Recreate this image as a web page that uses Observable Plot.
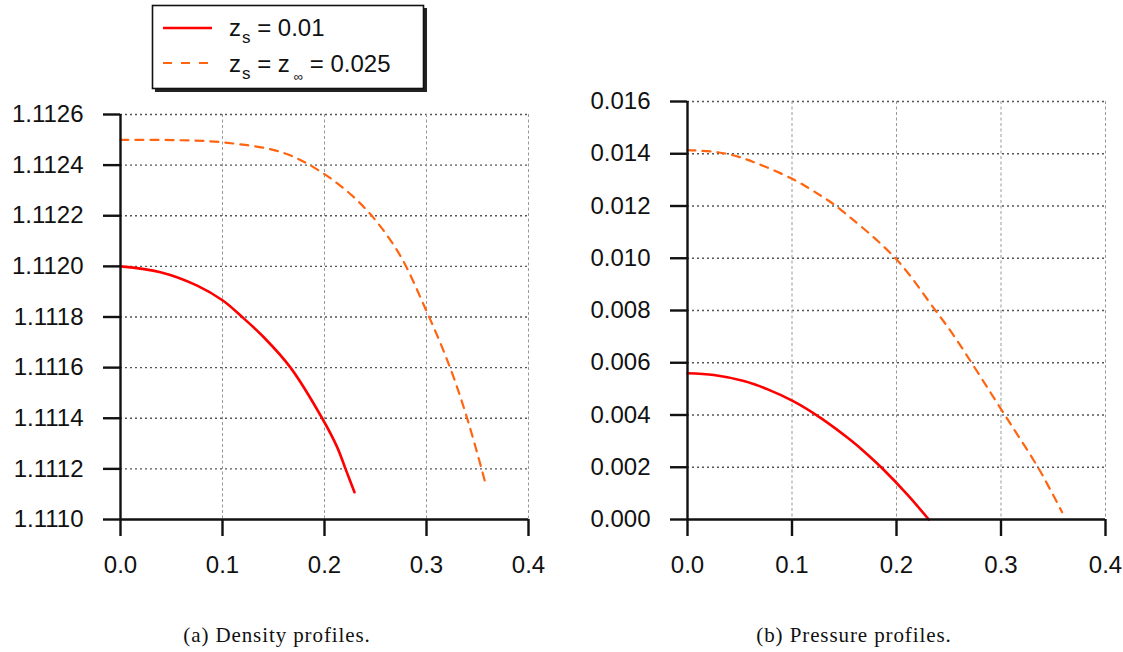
<!DOCTYPE html>
<html>
<head>
<meta charset="utf-8">
<script src="https://cdn.jsdelivr.net/npm/d3@7"></script>
<script src="https://cdn.jsdelivr.net/npm/@observablehq/plot@0.6"></script>
<style>
  html, body { margin: 0; padding: 0; background: #fff; }
  #wrap { position: relative; width: 1123px; height: 652px; overflow: hidden; font-family: "Liberation Sans", Arial, sans-serif; }
  .abs { position: absolute; }
  .cap { position: absolute; font-family: "Liberation Serif", "Times New Roman", serif; font-size: 21px; letter-spacing: 0.9px; color: #111; white-space: nowrap; transform: translate(-50%, -50%); }
</style>
</head>
<body>
<div id="wrap">
  <div id="plotA" class="abs" style="left:0px; top:90px;"></div>
  <div id="plotB" class="abs" style="left:560px; top:80px;"></div>
  <div id="legend" class="abs" style="left:0; top:0;"></div>
  <div class="cap" style="left:277px; top:635px;">(a) Density profiles.</div>
  <div class="cap" style="left:854px; top:635px;">(b) Pressure profiles.</div>
</div>
<script>
// ---- data ----
const seriesNames = ["z_s = 0.01", "z_s = z_inf = 0.025"];

// (a) density, z_s = 0.01
const densRedX = [0, 0.0392, 0.0752, 0.1003, 0.1193, 0.1405, 0.1667, 0.1977, 0.2124, 0.2206, 0.2294];
const densRedY = [1.11200, 1.111977, 1.111924, 1.111865, 1.111800, 1.111720, 1.111600, 1.111400, 1.111286, 1.111200, 1.111108];
// (a) density, z_s = z_inf = 0.025
const densOrangeX = [0, 0.05, 0.1, 0.157, 0.1944, 0.2353, 0.2712, 0.2997, 0.3235, 0.3415, 0.3578];
const densOrangeY = [1.11250, 1.112499, 1.11249, 1.112452, 1.112379, 1.112248, 1.112063, 1.111826, 1.111596, 1.111378, 1.111143];

// (b) pressure, z_s = 0.01
const presRedX = [0, 0.0252, 0.0539, 0.0762, 0.1011, 0.1273, 0.156, 0.1719, 0.1863, 0.2102, 0.2309];
const presRedY = [0.0056, 0.00553, 0.0053, 0.00499, 0.00453, 0.00389, 0.00304, 0.0025, 0.00196, 0.00096, 0];
// (b) pressure, z_s = z_inf = 0.025
const presOrangeX = [0, 0.0284, 0.05, 0.1002, 0.1273, 0.142, 0.199, 0.2373, 0.2548, 0.2979, 0.3091, 0.3362, 0.3585];
const presOrangeY = [0.01414, 0.01406, 0.01387, 0.01304, 0.0124, 0.0120, 0.0100, 0.0080, 0.00704, 0.00436, 0.00366, 0.00194, 0.00028];

// ticks
const xTicks = [0, 0.1, 0.2, 0.3, 0.4];
const densTicks = [1.1110, 1.1112, 1.1114, 1.1116, 1.1118, 1.1120, 1.1122, 1.1124, 1.1126];
const presTicks = [0, 0.002, 0.004, 0.006, 0.008, 0.010, 0.012, 0.014, 0.016];

const RED = "#ff0000";
const ORANGE = "#ff6410";

function toRows(xs, ys) { return xs.map((x, i) => ({x, y: ys[i]})); }

function makePlot({width, height, marginLeft, marginRight, marginTop, marginBottom, yTicks, yFormat, red, orange}) {
  const yMin = yTicks[0], yMax = yTicks[yTicks.length - 1];
  return Plot.plot({
    width, height, marginLeft, marginRight, marginTop, marginBottom,
    style: {fontFamily: "'Liberation Sans', Arial, sans-serif", fontSize: "24px", color: "#111", overflow: "visible", background: "transparent"},
    x: {domain: [0, 0.4], label: null},
    y: {domain: [yMin, yMax], label: null},
    marks: [
      Plot.gridY(yTicks.slice(1), {stroke: "#555", strokeOpacity: 1, strokeWidth: 1.4, strokeDasharray: "2,3"}),
      Plot.gridX(xTicks.slice(1), {stroke: "#999", strokeOpacity: 1, strokeWidth: 1, strokeDasharray: "3,2.5"}),
      Plot.line(red, {x: "x", y: "y", stroke: RED, strokeWidth: 2.6, curve: "catmull-rom"}),
      Plot.line(orange, {x: "x", y: "y", stroke: ORANGE, strokeWidth: 2.2, strokeDasharray: "8,7", curve: "catmull-rom"}),
      Plot.ruleX([0], {stroke: "#111", strokeWidth: 2.4}),
      Plot.ruleY([yMin], {stroke: "#111", strokeWidth: 2.4}),
      Plot.axisY(yTicks, {tickSize: 17, tickPadding: 20, strokeWidth: 2.4, stroke: "#111", fill: "#111", fontSize: 24, tickFormat: yFormat}),
      Plot.axisX(xTicks, {tickSize: 17, tickPadding: 19, strokeWidth: 2.4, stroke: "#111", fill: "#111", fontSize: 24, tickFormat: d3.format(".1f")})
    ]
  });
}

document.getElementById("plotA").append(makePlot({
  width: 560, height: 490, marginLeft: 120, marginRight: 32, marginTop: 24, marginBottom: 61,
  yTicks: densTicks, yFormat: d3.format(".4f"),
  red: toRows(densRedX, densRedY), orange: toRows(densOrangeX, densOrangeY)
}));

document.getElementById("plotB").append(makePlot({
  width: 563, height: 500, marginLeft: 127, marginRight: 18, marginTop: 21, marginBottom: 61,
  yTicks: presTicks, yFormat: d3.format(".3f"),
  red: toRows(presRedX, presRedY), orange: toRows(presOrangeX, presOrangeY)
}));

// ---- legend ----
const svg = d3.select("#legend").append("svg").attr("width", 460).attr("height", 100)
  .style("font-family", "'Liberation Sans', Arial, sans-serif");
svg.append("rect").attr("x", 155).attr("y", 8).attr("width", 272).attr("height", 84).attr("fill", "#222");
svg.append("rect").attr("x", 152.5).attr("y", 5.5).attr("width", 271).attr("height", 83).attr("fill", "#fff").attr("stroke", "#111").attr("stroke-width", 1.6);
svg.append("line").attr("x1", 163).attr("x2", 212).attr("y1", 28).attr("y2", 28).attr("stroke", RED).attr("stroke-width", 2.4);
svg.append("line").attr("x1", 163).attr("x2", 212).attr("y1", 63).attr("y2", 63).attr("stroke", ORANGE).attr("stroke-width", 2.2).attr("stroke-dasharray", "9,9");
const t1 = svg.append("text").attr("x", 229).attr("y", 36).attr("font-size", 24).attr("fill", "#111");
t1.append("tspan").text("z");
t1.append("tspan").attr("dx", 1).attr("dy", 7).attr("font-size", 17).text("s");
t1.append("tspan").attr("dy", -7).text("\u00a0= 0.01");
const t2 = svg.append("text").attr("x", 229).attr("y", 72).attr("font-size", 24).attr("fill", "#111");
t2.append("tspan").text("z");
t2.append("tspan").attr("dx", 1).attr("dy", 7).attr("font-size", 17).text("s");
t2.append("tspan").attr("dy", -7).text("\u00a0= z");
t2.append("tspan").attr("dx", 4).attr("dy", 9).attr("font-size", 13).text("\u221e");
t2.append("tspan").attr("dy", -9).text("\u00a0= 0.025");
</script>
</body>
</html>
